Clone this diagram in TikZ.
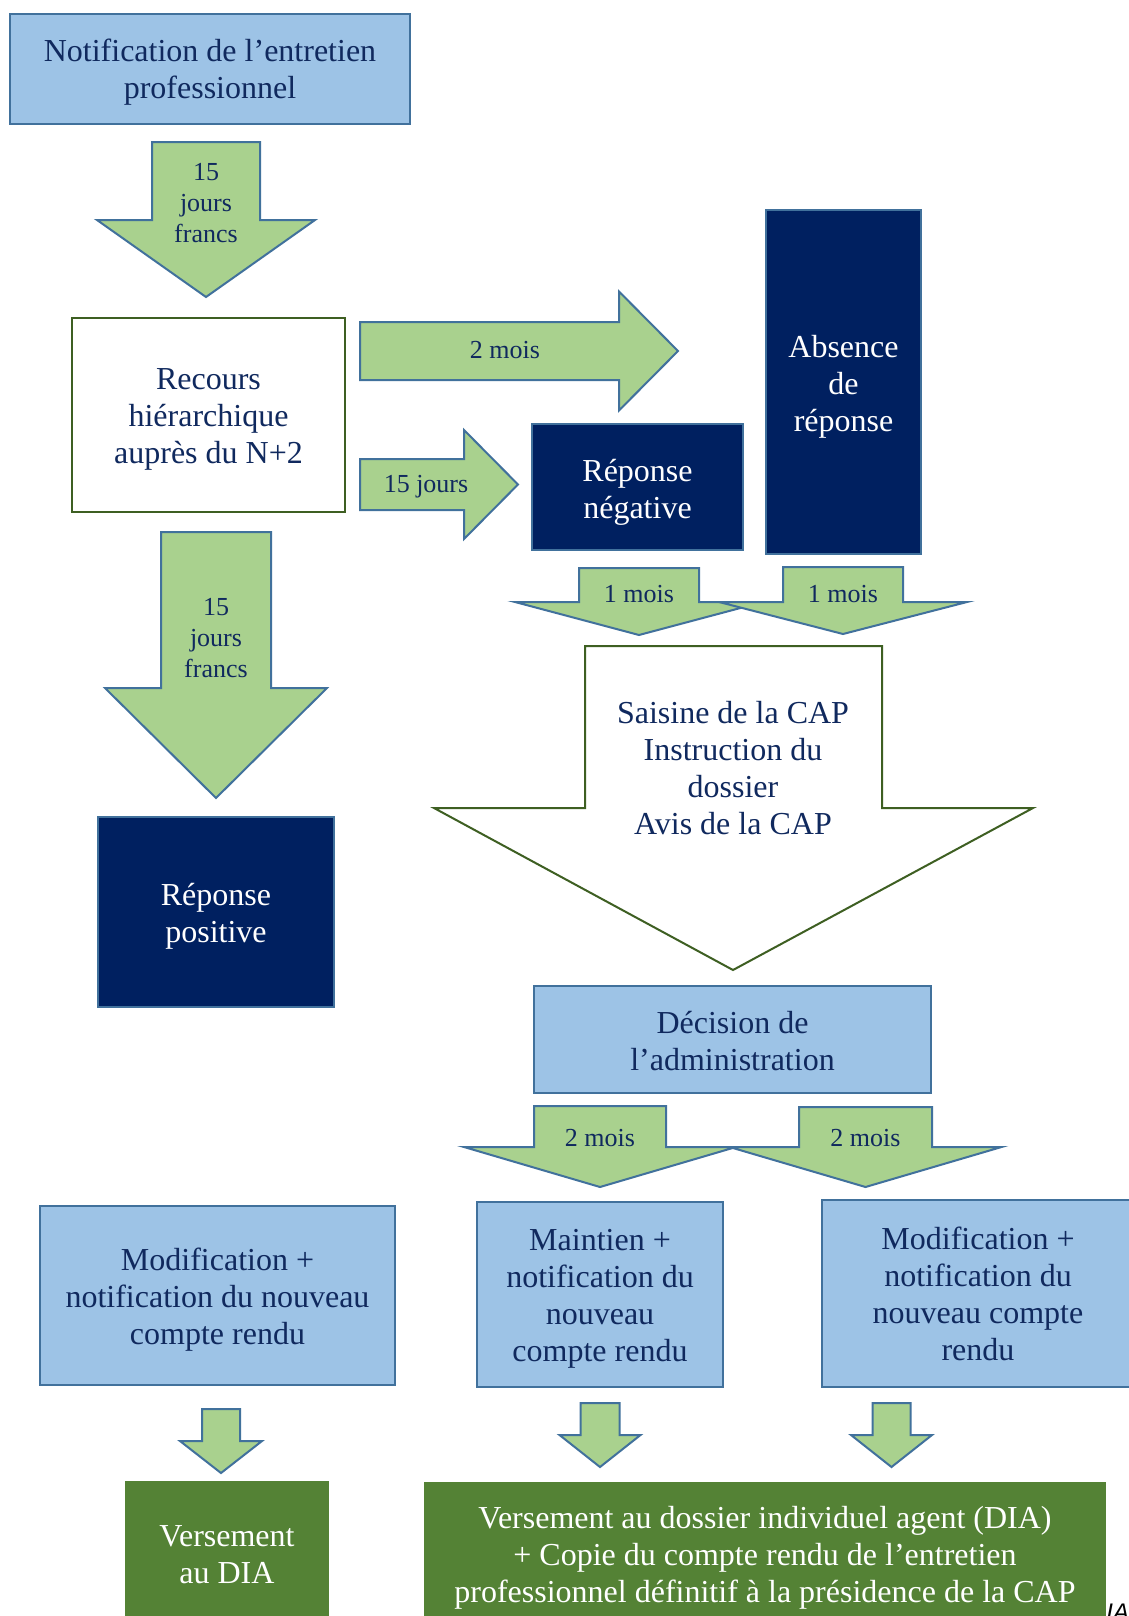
\documentclass[tikz,border=0pt]{standalone}
\usepackage{fontspec}
\setmainfont{Liberation Serif}
\newfontfamily\iacfont{Liberation Sans}
\definecolor{lblue}{HTML}{9DC3E6}
\definecolor{bord}{HTML}{41719C}
\definecolor{agreen}{HTML}{A9D18E}
\definecolor{navy}{HTML}{002060}
\definecolor{dgreen}{HTML}{548235}
\definecolor{gbord}{HTML}{3E5F22}
\definecolor{txt}{HTML}{10295E}
\newcommand\mybigfont{\fontsize{16}{18.5}\selectfont}
\newcommand\mysmallfont{\fontsize{13}{15.5}\selectfont}
\newcommand\darrow[6]{% cx, shafthalf, headhalf, top, shoulder, tip
  \draw[arr] ({#1-#2},#4) -- ({#1-#2},#5) -- ({#1-#3},#5) -- (#1,#6) -- ({#1+#3},#5) -- ({#1+#2},#5) -- ({#1+#2},#4) -- cycle;}
\newcommand\rarrow[6]{% cy, shafthalf, headhalf, left, headx, tipx
  \draw[arr] (#4,{#1-#2}) -- (#5,{#1-#2}) -- (#5,{#1-#3}) -- (#6,#1) -- (#5,{#1+#3}) -- (#5,{#1+#2}) -- (#4,{#1+#2}) -- cycle;}
\tikzset{
  box/.style={line width=1pt, inner sep=0pt},
  lbox/.style={box, draw=bord, fill=lblue},
  nbox/.style={box, draw=bord, fill=navy},
  wbox/.style={box, draw=gbord, fill=white},
  gbox/.style={box, draw=dgreen, fill=dgreen},
  arr/.style={draw=bord, fill=agreen, line width=1pt, line join=miter},
  warr/.style={draw=gbord, fill=white, line width=1pt, line join=miter},
  lab/.style={font=\mysmallfont, text=txt, align=center, inner sep=0pt},
  blab/.style={font=\mybigfont, text=txt, align=center, inner sep=0pt},
  wlab/.style={blab, text=white},
}
\begin{document}
\begin{tikzpicture}[x=0.5pt,y=-0.5pt]
\useasboundingbox (0,0) rectangle (1129,1616);
\clip (0,0) rectangle (1129,1616);
\fill[white] (0,0) rectangle (1129,1616);

% boxes
\node[lbox, minimum width=200pt, minimum height=55pt] (notif) at (210,69) {};
\node[blab] (notift) at (210,72) {Notification de l’entretien\\professionnel};
\node[wbox, minimum width=136.5pt, minimum height=97pt] (recours) at (208.5,415) {};
\node[blab] (recourst) at (208.5,419) {Recours\\hiérarchique\\auprès du N+2};
\node[nbox, minimum width=118pt, minimum height=95pt] (positive) at (216,912) {};
\node[wlab] (positivet) at (216,916) {Réponse\\positive};
\node[nbox, minimum width=105.5pt, minimum height=63pt] (negative) at (637.5,487) {};
\node[wlab] (negativet) at (637.5,492) {Réponse\\négative};
\node[nbox, minimum width=77.5pt, minimum height=172pt] (absence) at (843.5,382) {};
\node[wlab] (absencet) at (843.5,386.5) {Absence\\de\\réponse};
\node[lbox, minimum width=198.5pt, minimum height=53.5pt] (decision) at (732.5,1039.5) {};
\node[blab] (decisiont) at (732.5,1041) {Décision de\\l’administration};
\node[lbox, minimum width=177.5pt, minimum height=89.5pt] (modl) at (217.5,1295.5) {};
\node[blab] (modlt) at (217.5,1299.5) {Modification +\\notification du nouveau\\compte rendu};
\node[lbox, minimum width=123pt, minimum height=92.5pt] (maintien) at (600,1294.5) {};
\node[blab] (maintient) at (600,1299) {Maintien +\\notification du\\nouveau\\compte rendu};
\node[lbox, minimum width=156pt, minimum height=93.5pt] (modr) at (978,1293.5) {};
\node[blab] (modrt) at (978,1294) {Modification +\\notification du\\nouveau compte\\rendu};
\node[gbox, minimum width=101pt, minimum height=74pt] (dia) at (227,1556) {};
\node[wlab] (diat) at (227,1555) {Versement\\au DIA};
\node[gbox, minimum width=340pt, minimum height=73.5pt] (diabig) at (765,1556.5) {};
\node[wlab] (diabigt) at (765,1557.5) {Versement au dossier individuel agent (DIA)\\+ Copie du compte rendu de l’entretien\\professionnel définitif à la présidence de la CAP};

% block arrows
\darrow{206}{54}{109}{142}{220}{297}
\node[lab] (a1) at (206,203) {15\\jours\\francs};
\darrow{216}{55}{111}{532}{688}{798}
\node[lab] (a2) at (216,638) {15\\jours\\francs};
\rarrow{351}{29}{59.5}{360}{619}{678}
\node[lab] (a3) at (505,350) {2 mois};
\rarrow{484.5}{25.5}{54.5}{360}{464}{518}
\node[lab] (a4) at (426,487) {15 jours};
\darrow{639}{60}{124}{568}{602}{635}
\node[lab] (a5) at (639,594) {1 mois};
\darrow{843}{60}{124}{567}{602}{634}
\node[lab] (a6) at (843,594) {1 mois};
\draw[warr] (585,646) -- (585,808) -- (434,808) -- (733,970) -- (1033,808) -- (882,808) -- (882,646) -- cycle;
\node[blab] (cap) at (733,768.5) {Saisine de la CAP\\Instruction du\\dossier\\Avis de la CAP};
\darrow{600}{66}{136}{1106}{1147}{1187}
\node[lab] (a7) at (600,1138) {2 mois};
\darrow{865.5}{66.5}{136}{1107}{1147}{1187}
\node[lab] (a8) at (865.5,1138) {2 mois};
\darrow{221}{19}{41}{1409}{1441}{1473}
\darrow{600}{19.5}{40.5}{1403}{1435}{1467}
\darrow{891.5}{19}{40.5}{1403}{1435}{1467}

\node[anchor=north west, inner sep=0pt, font=\iacfont\itshape\fontsize{12}{14}\selectfont] (iac) at (1106,1603) {IAC};
\end{tikzpicture}
\end{document}
